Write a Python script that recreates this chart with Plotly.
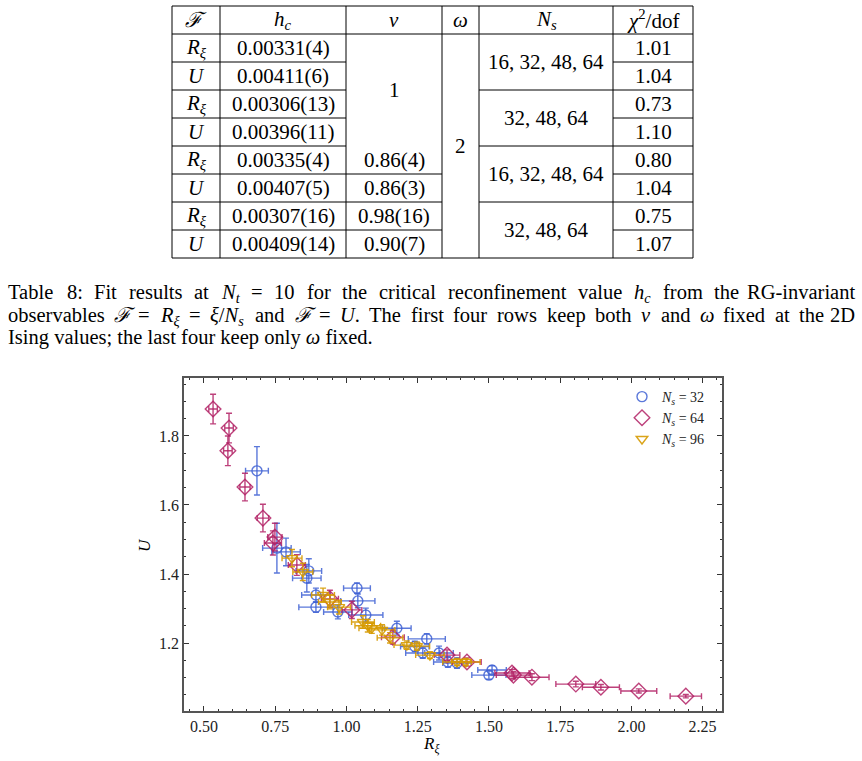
import plotly.graph_objects as go

W, H = 862, 761

# ---------------- data ----------------
ns32_x = [0.686, 0.756, 0.788, 0.868, 0.861, 0.893, 0.893, 1.037, 1.040, 0.970, 1.068, 1.177, 1.282, 1.268, 1.325, 1.356, 1.388, 1.511, 1.500, 1.240]
ns32_y = [1.699, 1.475, 1.464, 1.409, 1.388, 1.339, 1.304, 1.359, 1.322, 1.290, 1.281, 1.243, 1.212, 1.171, 1.171, 1.145, 1.142, 1.122, 1.107, 1.190]
ns32_xerr = [0.040, 0.050, 0.050, 0.045, 0.050, 0.050, 0.060, 0.047, 0.060, 0.050, 0.060, 0.050, 0.065, 0.060, 0.050, 0.050, 0.050, 0.050, 0.060, 0.050]
ns32_yerr = [0.070, 0.072, 0.040, 0.035, 0.040, 0.020, 0.015, 0.015, 0.020, 0.020, 0.020, 0.020, 0.015, 0.015, 0.020, 0.015, 0.015, 0.012, 0.012, 0.015]

ns64_x = [0.532, 0.588, 0.584, 0.644, 0.707, 0.749, 0.742, 0.826, 0.942, 1.019, 1.163, 1.353, 1.423, 1.581, 1.586, 1.651, 1.805, 1.893, 2.026, 2.191]
ns64_y = [1.878, 1.823, 1.757, 1.652, 1.562, 1.507, 1.490, 1.426, 1.328, 1.296, 1.217, 1.165, 1.145, 1.113, 1.107, 1.101, 1.081, 1.072, 1.061, 1.046]
ns64_xerr = [0.015, 0.015, 0.015, 0.018, 0.020, 0.025, 0.030, 0.030, 0.030, 0.035, 0.040, 0.045, 0.050, 0.060, 0.060, 0.060, 0.070, 0.065, 0.063, 0.055]
ns64_yerr = [0.043, 0.043, 0.043, 0.040, 0.040, 0.040, 0.035, 0.030, 0.025, 0.025, 0.020, 0.015, 0.012, 0.010, 0.010, 0.010, 0.008, 0.008, 0.006, 0.005]

ns96_x = [0.809, 0.847, 0.918, 0.942, 0.974, 1.058, 1.075, 1.089, 1.125, 1.153, 1.212, 1.247, 1.293, 1.388, 1.419]
ns96_y = [1.446, 1.406, 1.339, 1.319, 1.304, 1.261, 1.250, 1.243, 1.238, 1.215, 1.194, 1.191, 1.165, 1.145, 1.145]
ns96_xerr = [0.035, 0.035, 0.040, 0.040, 0.040, 0.040, 0.045, 0.045, 0.045, 0.045, 0.045, 0.045, 0.050, 0.050, 0.050]
ns96_yerr = [0.025, 0.025, 0.020, 0.020, 0.020, 0.018, 0.018, 0.015, 0.015, 0.015, 0.012, 0.012, 0.010, 0.010, 0.010]

x_ticks = [0.50, 0.75, 1.00, 1.25, 1.50, 1.75, 2.00, 2.25]
y_ticks = [1.2, 1.4, 1.6, 1.8]

# table contents
tab_header = ["<i>ℱ</i>", "<i>h</i><sub><i>c</i></sub>", "<i>ν</i>", "<i>ω</i>", "<i>N</i><sub><i>s</i></sub>", "<i>χ</i><sup>2</sup>/dof"]
tab_F = ["R", "U", "R", "U", "R", "U", "R", "U"]
tab_hc = ["0.00331(4)", "0.00411(6)", "0.00306(13)", "0.00396(11)", "0.00335(4)", "0.00407(5)", "0.00307(16)", "0.00409(14)"]
tab_nu_fixed = "1"
tab_nu_free = ["0.86(4)", "0.86(3)", "0.98(16)", "0.90(7)"]
tab_omega = "2"
tab_Ns = ["16, 32, 48, 64", "32, 48, 64", "16, 32, 48, 64", "32, 48, 64"]
tab_chi = ["1.01", "1.04", "0.73", "1.10", "0.80", "1.04", "0.75", "1.07"]

# caption words: (html, main text for width, subscript text for width)
caption_l1 = [("Table", "Table", ""), ("8:", "8:", ""), ("Fit", "Fit", ""), ("results", "results", ""),
              ("at", "at", ""), ("<i>N</i><sub><i>t</i></sub>", "N", "t"), ("=", "=", ""), ("10", "10", ""),
              ("for", "for", ""), ("the", "the", ""), ("critical", "critical", ""),
              ("reconfinement", "reconfinement", ""), ("value", "value", ""),
              ("<i>h</i><sub><i>c</i></sub>", "h", "c"), ("from", "from", ""), ("the", "the", ""),
              ("RG-invariant", "RG-invariant", "")]
caption_l2 = [("observables", "observables", ""), ("<i>ℱ</i>", "ℱ", ""), ("=", "=", ""),
              ("<i>R</i><sub><i>ξ</i></sub>", "R", "ξ"), ("=", "=", ""),
              ("<i>ξ</i>/<i>N</i><sub><i>s</i></sub>", "ξ/N", "s"), ("and", "and", ""),
              ("<i>ℱ</i>", "ℱ", ""), ("=", "=", ""), ("<i>U</i>.", "U.", ""), ("The", "The", ""),
              ("first", "first", ""), ("four", "four", ""), ("rows", "rows", ""), ("keep", "keep", ""),
              ("both", "both", ""), ("<i>ν</i>", "ν", ""), ("and", "and", ""), ("<i>ω</i>", "ω", ""),
              ("fixed", "fixed", ""), ("at", "at", ""), ("the", "the", ""), ("2D", "2D", "")]
caption_l3 = "Ising values; the last four keep only <i>ω</i> fixed."

# ---------------- helpers ----------------
def X(px):
    return px / W

def Y(py):
    return 1 - py / H

FONT = "Liberation Serif"
BLUE = "rgba(62,96,212,0.85)"
PINK = "rgba(178,32,100,0.85)"
ORANGE = "rgba(214,154,0,0.9)"

# approximate Times (Liberation Serif) advance widths, per 1000 em
CW = {' ': 250, 'a': 444, 'b': 500, 'c': 444, 'd': 500, 'e': 444, 'f': 333, 'g': 500, 'h': 500, 'i': 278,
      'j': 278, 'k': 500, 'l': 278, 'm': 778, 'n': 500, 'o': 500, 'p': 500, 'q': 500, 'r': 333, 's': 389,
      't': 278, 'u': 500, 'v': 500, 'w': 722, 'x': 500, 'y': 500, 'z': 444, '.': 250, ',': 250, ':': 278,
      ';': 278, '=': 564, '-': 333, '/': 278, 'T': 611, 'F': 556, 'R': 640, 'G': 722, 'N': 690, 'U': 722,
      'D': 722, 'I': 333, 'ℱ': 700, 'ξ': 480, 'ν': 480, 'ω': 667}

def width_em(s):
    return sum(CW.get(ch, 500) for ch in s) / 1000.0

fig = go.Figure()

def add_series(xs, ys, xe, ye, color, symbol, size, name):
    fig.add_trace(go.Scatter(
        x=xs, y=ys, mode="markers", name=name,
        marker=dict(symbol=symbol, size=size, color=color, line=dict(width=1.4, color=color)),
        error_x=dict(type="data", array=xe, color=color, thickness=1.4, width=3),
        error_y=dict(type="data", array=ye, color=color, thickness=1.4, width=3),
    ))

add_series(ns32_x, ns32_y, ns32_xerr, ns32_yerr, BLUE, "circle-open", 10, "<i>N</i><sub><i>s</i></sub> = 32")
add_series(ns64_x, ns64_y, ns64_xerr, ns64_yerr, PINK, "diamond-open", 12, "<i>N</i><sub><i>s</i></sub> = 64")
add_series(ns96_x, ns96_y, ns96_xerr, ns96_yerr, ORANGE, "triangle-down-open", 10, "<i>N</i><sub><i>s</i></sub> = 96")

# ---------------- table ----------------
cols = [172, 220, 346, 442, 479, 613, 693]
rows = [6, 34, 62, 90, 118, 146, 174, 202, 230, 258]
shapes = []

def hline(y, x0, x1):
    shapes.append(dict(type="line", xref="paper", yref="paper", x0=X(x0), x1=X(x1), y0=Y(y), y1=Y(y),
                       line=dict(color="black", width=1)))

def vline(x, y0, y1):
    shapes.append(dict(type="line", xref="paper", yref="paper", x0=X(x), x1=X(x), y0=Y(y0), y1=Y(y1),
                       line=dict(color="black", width=1)))

for c in cols:
    vline(c, rows[0], rows[-1])
hline(rows[0], cols[0], cols[-1])
hline(rows[1], cols[0], cols[-1])
hline(rows[-1], cols[0], cols[-1])
for i in range(2, 9):
    r = rows[i]
    hline(r, cols[0], cols[3] if i >= 6 else cols[2])
    if i % 2 == 0:
        hline(r, cols[5], cols[6])
    else:
        hline(r, cols[4], cols[6])

annots = []
TFS = 21

def txt(px, py, s, size=TFS, xanchor="center", yanchor="middle"):
    annots.append(dict(xref="paper", yref="paper", x=X(px), y=Y(py), text=s, showarrow=False,
                       xanchor=xanchor, yanchor=yanchor, font=dict(family=FONT, size=size, color="black")))

for j, h in enumerate(tab_header):
    txt((cols[j] + cols[j + 1]) / 2, (rows[0] + rows[1]) / 2, h)
for i in range(8):
    cy = (rows[i + 1] + rows[i + 2]) / 2
    f = "<i>R</i><sub><i>ξ</i></sub>" if tab_F[i] == "R" else "<i>U</i>"
    txt((cols[0] + cols[1]) / 2, cy, f)
    txt((cols[1] + cols[2]) / 2, cy, tab_hc[i])
    txt((cols[5] + cols[6]) / 2, cy, tab_chi[i])
for k in range(4):
    txt((cols[2] + cols[3]) / 2, (rows[5 + k] + rows[6 + k]) / 2, tab_nu_free[k])
txt((cols[2] + cols[3]) / 2, (rows[1] + rows[5]) / 2, tab_nu_fixed)
txt((cols[3] + cols[4]) / 2, (rows[1] + rows[9]) / 2, tab_omega)
for k in range(4):
    txt((cols[4] + cols[5]) / 2, (rows[1 + 2 * k] + rows[3 + 2 * k]) / 2, tab_Ns[k])

# ---------------- caption (justified) ----------------
CFS = 20.5
CAP_L, CAP_R = 6, 857
CAP_TOP = 279
CAP_LH = 22.5

def justify(tokens, top):
    widths = [(width_em(m) + 0.7 * width_em(s)) * CFS for _, m, s in tokens]
    gap = (CAP_R - CAP_L - sum(widths)) / (len(tokens) - 1)
    x = CAP_L
    for k, (html, _, _) in enumerate(tokens):
        if k == len(tokens) - 1:
            txt(CAP_R, top, html, size=CFS, xanchor="right", yanchor="top")
        else:
            txt(x, top, html, size=CFS, xanchor="left", yanchor="top")
        x += widths[k] + gap

justify(caption_l1, CAP_TOP)
justify(caption_l2, CAP_TOP + CAP_LH)
txt(CAP_L, CAP_TOP + 2 * CAP_LH, caption_l3, size=CFS, xanchor="left", yanchor="top")

# axis titles
txt(431, 745, "<i>R</i><sub><i>ξ</i></sub>", size=17)
annots.append(dict(xref="paper", yref="paper", x=X(144), y=Y(545), text="<i>U</i>", showarrow=False,
                   textangle=-90, xanchor="center", yanchor="middle",
                   font=dict(family=FONT, size=17, color="black")))

axis_common = dict(
    showline=True, linecolor="#555555", linewidth=1.6, mirror="allticks",
    ticks="inside", ticklen=5, tickwidth=1, tickcolor="#333333",
    showgrid=False, zeroline=False,
    tickfont=dict(family=FONT, size=16, color="#222222"),
)

fig.update_layout(
    width=W, height=H, margin=dict(l=0, r=0, t=0, b=0),
    paper_bgcolor="white", plot_bgcolor="white",
    xaxis=dict(domain=[X(184), X(722)], range=[0.43, 2.318], tickvals=x_ticks,
               ticktext=[f"{v:.2f}" for v in x_ticks],
               minor=dict(ticks="inside", ticklen=2.5, dtick=0.05, tick0=0.5, tickcolor="#333333"),
               **axis_common),
    yaxis=dict(domain=[Y(711), Y(378)], range=[1.003, 1.968], tickvals=y_ticks,
               ticktext=[f"{v:.1f}" for v in y_ticks],
               minor=dict(ticks="inside", ticklen=2.5, dtick=0.05, tick0=1.0, tickcolor="#333333"),
               **axis_common),
    legend=dict(x=X(622), y=Y(381), xanchor="left", yanchor="top", bgcolor="rgba(255,255,255,0)",
                font=dict(family=FONT, size=14, color="#222222"), tracegroupgap=0, itemwidth=30),
    shapes=shapes, annotations=annots, showlegend=True,
)

fig.write_html("out.html")
